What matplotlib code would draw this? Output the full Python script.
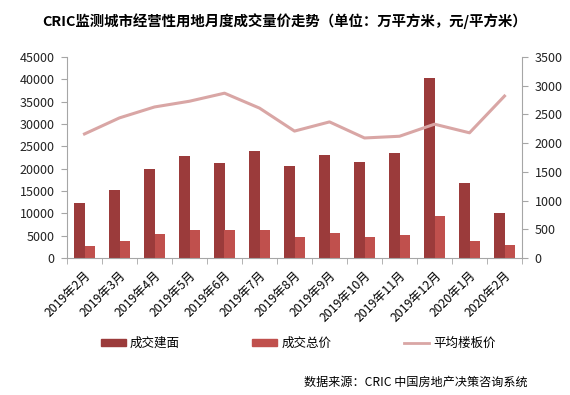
import matplotlib
matplotlib.use("Agg")
import matplotlib.pyplot as plt
import numpy as np
from matplotlib.lines import Line2D
from matplotlib.patches import Patch

plt.rcParams["font.family"] = ["Noto Sans CJK SC", "DejaVu Sans"]

months = ["2019年2月", "2019年3月", "2019年4月", "2019年5月", "2019年6月", "2019年7月",
          "2019年8月", "2019年9月", "2019年10月", "2019年11月", "2019年12月",
          "2020年1月", "2020年2月"]
area = [12300, 15200, 19900, 22800, 21300, 24000, 20500, 23100, 21400, 23500, 40400, 16900, 10100]
total = [2700, 3800, 5400, 6300, 6300, 6300, 4700, 5500, 4700, 5100, 9400, 3700, 2900]
avg_price = [2160, 2440, 2630, 2730, 2870, 2610, 2210, 2370, 2090, 2120, 2330, 2180, 2820]

c_area = "#9B3B3B"
c_total = "#C0504D"
c_line = "#D9A6A5"
gray = "#A6A6A6"

fig = plt.figure(figsize=(5.7, 3.95), dpi=100)
ax = fig.add_axes([67 / 570, 1 - 258 / 395, 455 / 570, 201 / 395])
ax2 = ax.twinx()

x = np.arange(len(months))
w = 0.29
ax.bar(x - w / 2, area, w, color=c_area, zorder=2)
ax.bar(x + w / 2, total, w, color=c_total, zorder=2)
ax2.plot(x, avg_price, color=c_line, lw=2.2, zorder=3)

ax.set_xlim(-0.5, len(months) - 0.5)
ax.set_ylim(0, 45000)
ax.set_yticks(range(0, 45001, 5000))
ax2.set_ylim(0, 3500)
ax2.set_yticks(range(0, 3501, 500))

ax.set_xticks(x)
ax.set_xticklabels(months, rotation=45, ha="right", rotation_mode="anchor", fontsize=8.8)
ax.tick_params(axis="x", length=0, pad=8)
ax.set_xticks(np.arange(-0.5, len(months)), minor=True)
ax.tick_params(axis="x", which="minor", length=4, color=gray)

for a in (ax, ax2):
    a.spines["top"].set_visible(False)
    for s in ("left", "right", "bottom"):
        a.spines[s].set_color(gray)
    a.tick_params(axis="y", labelsize=9, length=4, pad=5, color=gray, labelcolor="#222222")
ax.spines["right"].set_visible(False)
ax2.spines["left"].set_visible(False)
ax2.spines["bottom"].set_visible(False)

fig.text(0.5, 1 - 21 / 395, "CRIC监测城市经营性用地月度成交量价走势（单位：万平方米，元/平方米）",
         ha="center", va="center", fontsize=10.4, fontweight="bold")

handles = [Patch(color=c_area), Patch(color=c_total), Line2D([0], [0], color=c_line, lw=2)]
labels = ["成交建面", "成交总价", "平均楼板价"]
fig.legend(handles, labels, loc="center", bbox_to_anchor=(0.523, 1 - 343 / 395), ncol=3,
           frameon=False, fontsize=9, handlelength=2.0, handleheight=0.5,
           columnspacing=5.85, handletextpad=0.3)

fig.text(1 - 42 / 570, 1 - 382 / 395, "数据来源：CRIC 中国房地产决策咨询系统",
         ha="right", va="center", fontsize=8.7)

fig.savefig("out.png", dpi=100)
